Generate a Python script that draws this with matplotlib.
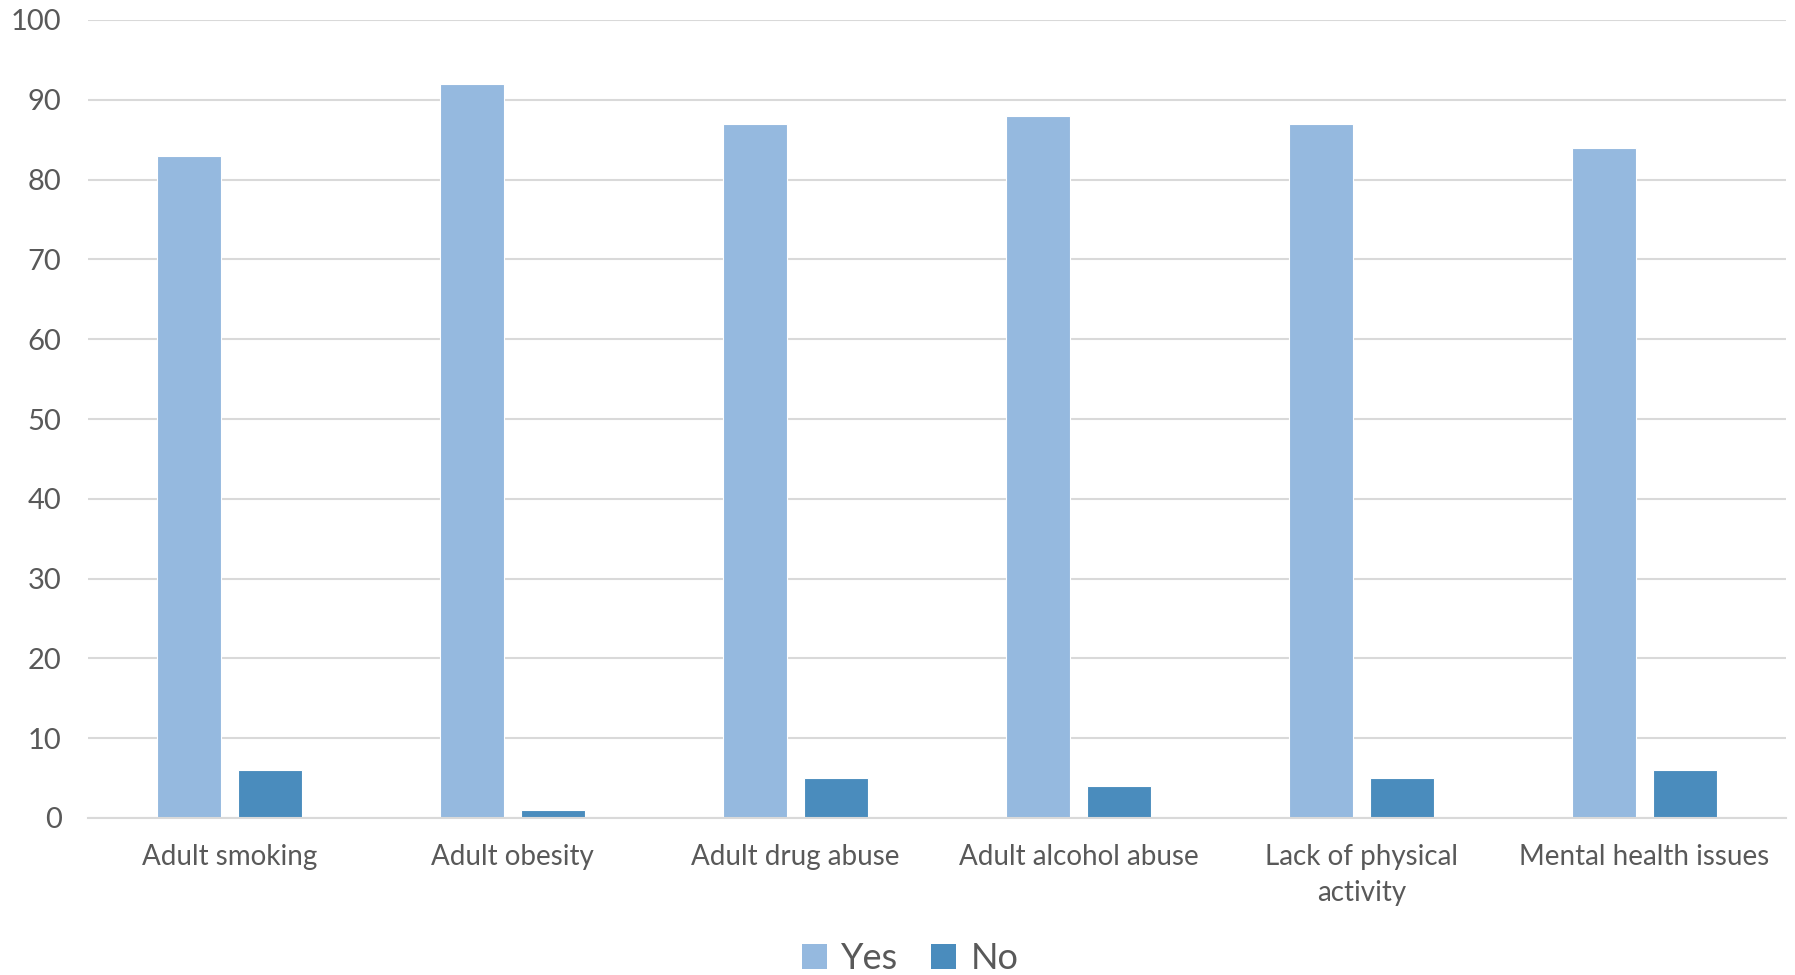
import matplotlib
matplotlib.use("Agg")
import matplotlib.pyplot as plt
from matplotlib.patches import Patch
import numpy as np

categories = ["Adult smoking", "Adult obesity", "Adult drug abuse",
              "Adult alcohol abuse", "Lack of physical\nactivity", "Mental health issues"]
yes_values = [83, 92, 87, 88, 87, 84]
no_values = [6, 1, 5, 4, 5, 6]
y_ticks = [0, 10, 20, 30, 40, 50, 60, 70, 80, 90, 100]
series_names = ["Yes", "No"]

YES_COLOR = "#95B9DF"
NO_COLOR = "#4A8CBD"
TEXT_COLOR = "#595959"
GRID_COLOR = "#D9D9D9"

plt.rcParams["font.family"] = ["Lato", "DejaVu Sans"]

fig = plt.figure(figsize=(17.95, 9.75), dpi=100)
ax = fig.add_axes([88 / 1795, 1 - 818 / 975, (1786 - 88) / 1795, (818 - 20) / 975])

x = np.arange(len(categories))
width = 0.223
offset = 0.143
ax.bar(x - offset, yes_values, width, color=YES_COLOR, edgecolor="white", linewidth=0.8, zorder=3)
ax.bar(x + offset, no_values, width, color=NO_COLOR, edgecolor="white", linewidth=0.8, zorder=3)

ax.set_xlim(-0.5, len(categories) - 0.5)
ax.set_ylim(0, 100)
ax.set_yticks(y_ticks)
ax.set_xticks(x)
ax.set_xticklabels(categories, fontsize=20, color=TEXT_COLOR, linespacing=1.45)
ax.tick_params(axis="y", labelsize=21, labelcolor=TEXT_COLOR, length=0, pad=19)
ax.tick_params(axis="x", length=0, pad=19)
for lab in ax.get_xticklabels():
    lab.set_verticalalignment("top")

ax.grid(axis="y", color=GRID_COLOR, linewidth=1.5, zorder=0)
for side in ["top", "right", "left"]:
    ax.spines[side].set_visible(False)
ax.spines["bottom"].set_color(GRID_COLOR)
ax.spines["bottom"].set_linewidth(1.5)
ax.spines["bottom"].set_zorder(4)

handles = [Patch(facecolor=YES_COLOR), Patch(facecolor=NO_COLOR)]
fig.legend(handles, series_names, loc="center", bbox_to_anchor=(0.507, 0.017),
           ncol=2, frameon=False, fontsize=26, labelcolor=TEXT_COLOR,
           handlelength=0.7, handleheight=0.7, handletextpad=0.4, columnspacing=0.9)

fig.savefig("out.png", dpi=100, facecolor="white")
